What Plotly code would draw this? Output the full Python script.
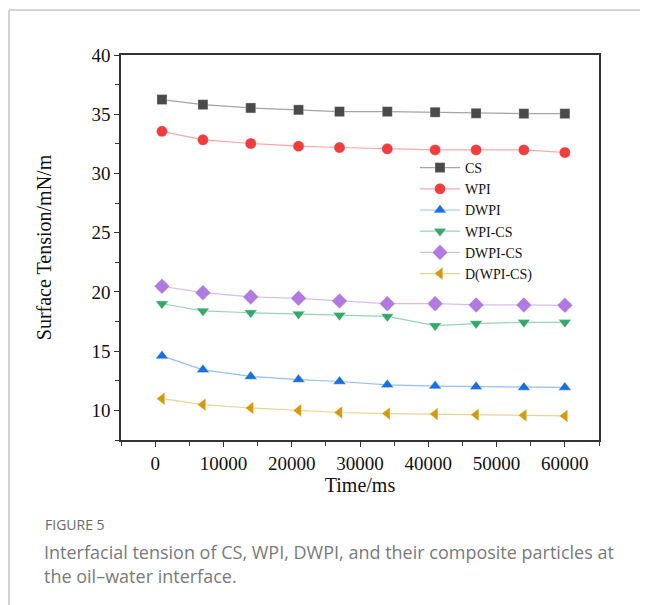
import plotly.graph_objects as go

time_ms = [1000, 7000, 14000, 21000, 27000, 34000, 41000, 47000, 54000, 60000]
cs = [36.24, 35.81, 35.53, 35.37, 35.22, 35.22, 35.17, 35.08, 35.05, 35.05]
wpi = [33.56, 32.84, 32.53, 32.30, 32.19, 32.08, 31.99, 31.99, 31.99, 31.77]
dwpi = [14.6, 13.42, 12.87, 12.6, 12.44, 12.16, 12.05, 12.0, 11.94, 11.94]
wpi_cs = [19.0, 18.4, 18.24, 18.13, 18.03, 17.93, 17.15, 17.33, 17.43, 17.43]
dwpi_cs = [20.48, 19.94, 19.58, 19.46, 19.24, 19.01, 19.01, 18.9, 18.9, 18.87]
d_wpi_cs = [10.99, 10.48, 10.20, 10.0, 9.82, 9.73, 9.69, 9.63, 9.58, 9.53]

series_names = ["CS", "WPI", "DWPI", "WPI-CS", "DWPI-CS", "D(WPI-CS)"]
x_ticks = [0, 10000, 20000, 30000, 40000, 50000, 60000]
y_ticks = [10, 15, 20, 25, 30, 35, 40]

styles = [
    ("square", 10, "#4a4a4a", "rgba(74,74,74,0.5)"),
    ("circle", 11, "#f03c3c", "rgba(240,60,60,0.45)"),
    ("triangle-up", 11, "#1a6fe0", "rgba(26,111,224,0.45)"),
    ("triangle-down", 11, "#35a86a", "rgba(53,168,106,0.5)"),
    ("diamond", 12, "#b07ae0", "rgba(176,122,224,0.5)"),
    ("triangle-left", 11, "#d39b0c", "rgba(211,155,12,0.45)"),
]
values = [cs, wpi, dwpi, wpi_cs, dwpi_cs, d_wpi_cs]

fig = go.Figure()
for name, ys, (sym, size, mcol, lcol) in zip(series_names, values, styles):
    fig.add_trace(go.Scatter(
        x=time_ms, y=ys, name=name, mode="lines+markers",
        line=dict(color=lcol, width=1.2),
        marker=dict(symbol=sym, size=size, color=mcol,
                    line=dict(color="rgba(255,255,255,0.6)", width=0.5)),
    ))

# page body has an 8px margin: figure occupies page pixels 8..648 x 8..605
OFF = 8
W, H = 640, 597
L, R, T, B = 121 - OFF, 599 - OFF, 55 - OFF, 440 - OFF
pw, ph = R - L, B - T

def px(x):  # page x -> paper
    return (x - OFF - L) / pw

def py(y):  # page y -> paper
    return (B - (y - OFF)) / ph

serif = "Liberation Serif, Times New Roman, serif"
axis_common = dict(
    showline=True, linecolor="#333333", linewidth=1.6, mirror=True,
    ticks="outside", ticklen=5, tickwidth=1.3, tickcolor="#333333",
    showgrid=False, zeroline=False,
    tickfont=dict(family=serif, size=19, color="#111111"),
)
fig.update_xaxes(
    range=[-5000, 65000], tickvals=x_ticks, ticktext=[str(v) for v in x_ticks],
    minor=dict(ticks="outside", ticklen=4, tickwidth=1.3, tickcolor="#333333", dtick=5000, tick0=-5000),
    title=dict(text="Time/ms", font=dict(family=serif, size=20, color="#111111"), standoff=4),
    **axis_common,
)
fig.update_yaxes(
    range=[7.5, 40], tickvals=y_ticks, ticktext=[str(v) for v in y_ticks],
    minor=dict(ticks="outside", ticklen=4, tickwidth=1.3, tickcolor="#333333", dtick=2.5, tick0=0),
    title=dict(text="Surface Tension/mN/m", font=dict(family=serif, size=20, color="#111111"), standoff=34),
    **axis_common,
)

fig.update_layout(
    width=W, height=H,
    margin=dict(l=L, r=W - R, t=T, b=H - B, autoexpand=False),
    paper_bgcolor="white", plot_bgcolor="white",
    showlegend=True,
    legend=dict(
        x=px(415), y=py(152), xanchor="left", yanchor="top",
        bgcolor="rgba(0,0,0,0)", borderwidth=0,
        font=dict(family=serif, size=14, color="#111111"),
        itemwidth=40, tracegroupgap=0,
    ),
    shapes=[
        dict(type="line", xref="paper", yref="paper", x0=px(9), x1=px(660), y0=py(10), y1=py(10),
             line=dict(color="#c4c4c4", width=1.5)),
        dict(type="line", xref="paper", yref="paper", x0=px(9), x1=px(9), y0=py(10), y1=py(620),
             line=dict(color="#c4c4c4", width=1.5)),
    ],
    annotations=[
        dict(text="FIGURE 5", xref="paper", yref="paper", x=px(43), y=py(524),
             xanchor="left", yanchor="middle", showarrow=False,
             font=dict(family="Open Sans, sans-serif", size=14, color="#6a6a6a")),
        dict(text="Interfacial tension of CS, WPI, DWPI, and their composite particles at",
             xref="paper", yref="paper", x=px(42), y=py(552),
             xanchor="left", yanchor="middle", showarrow=False,
             font=dict(family="Open Sans, sans-serif", size=18, color="#7a7a7a")),
        dict(text="the oil\u2013water interface.",
             xref="paper", yref="paper", x=px(42), y=py(576),
             xanchor="left", yanchor="middle", showarrow=False,
             font=dict(family="Open Sans, sans-serif", size=18, color="#7a7a7a")),
    ],
)

fig.write_html("out.html")
